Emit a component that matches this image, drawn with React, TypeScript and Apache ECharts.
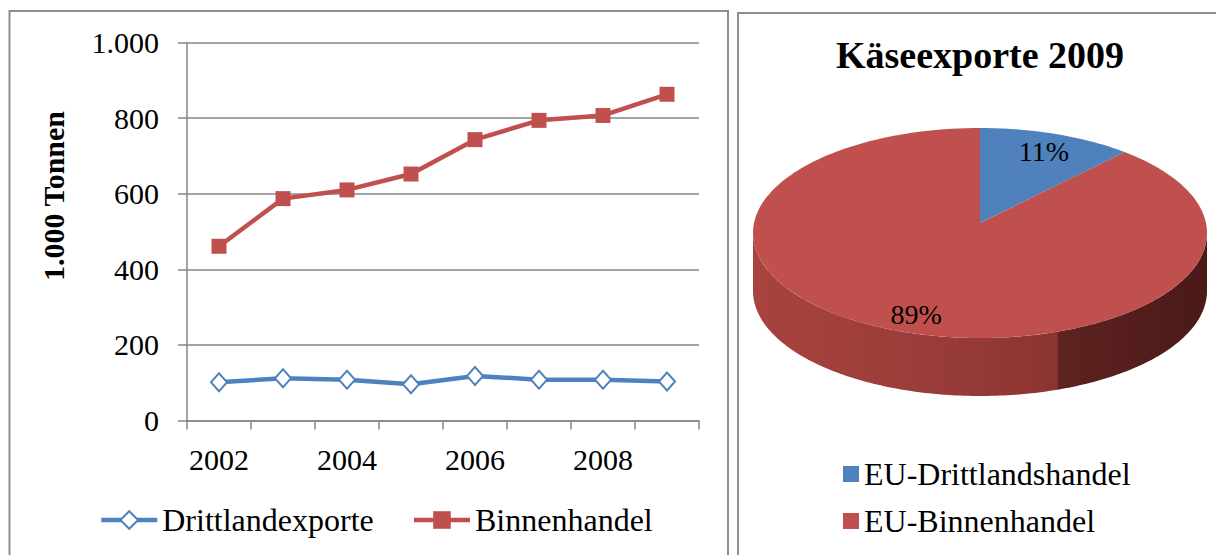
import { useEffect, useRef } from 'react';
import * as echarts from 'echarts';

const years = ['2002', '2003', '2004', '2005', '2006', '2007', '2008', '2009'];
const drittlandexporte = [101, 112, 108, 96, 118, 108, 108, 103];
const binnenhandel = [461, 587, 610, 652, 743, 794, 807, 863];
const lineNames = ['Drittlandexporte', 'Binnenhandel'];

const pieTitle = 'Käseexporte 2009';
const pieNames = ['EU-Drittlandshandel', 'EU-Binnenhandel'];
const pieShares = [11, 89];

const yAxisTitle = '1.000 Tonnen';

const FONT = "'Liberation Serif', 'Times New Roman', serif";
const BLUE = '#4F81BD';
const RED = '#C0504D';
const GREY = '#868686';

function fmt(v: number): string {
  return String(v).replace(/\B(?=(\d{3})+(?!\d))/g, '.');
}

export default function App() {
  const ref = useRef<HTMLDivElement>(null);
  useEffect(() => {
    const chart = echarts.init(ref.current!, null, { renderer: 'svg' });

    const cx = 980, cy = 233, rx = 227, ry = 105, depth = 58, apexLift = 10;
    const total = pieShares.reduce((a, b) => a + b, 0);
    const starts: number[] = [];
    let acc = 0;
    for (const v of pieShares) {
      starts.push((acc / total) * Math.PI * 2);
      acc += v;
    }
    const pt = (t: number, f = 1, dy = 0) => [cx + rx * f * Math.sin(t), cy - ry * f * Math.cos(t) + dy];
    const arc = (a0: number, a1: number, dy = 0) => {
      const n = Math.max(2, Math.ceil((a1 - a0) / (Math.PI / 180)));
      const pts: number[][] = [];
      for (let i = 0; i <= n; i++) pts.push(pt(a0 + ((a1 - a0) * i) / n, 1, dy));
      return pts;
    };
    const sideFill = new echarts.graphic.LinearGradient(0, 0, 1, 0, [
      { offset: 0, color: '#a8433f' },
      { offset: 0.45, color: '#973b38' },
      { offset: 0.67, color: '#8a3431' },
      { offset: 0.672, color: '#5f2321' },
      { offset: 1, color: '#4a1918' },
    ]);
    const colors = [BLUE, RED];

    const makeRender = (idx: number) => (_params: any, api: any) => {
      const v = api.value(0);
      const a0 = starts[idx];
      const a1 = a0 + (v / total) * Math.PI * 2;
      const children: any[] = [];
      const w0 = Math.max(a0, Math.PI / 2);
      const w1 = Math.min(a1, (3 * Math.PI) / 2);
      if (w1 > w0) {
        const top = arc(w0, w1, 0);
        const bottom = arc(w0, w1, depth).reverse();
        children.push({ type: 'polygon', shape: { points: top.concat(bottom) }, style: { fill: sideFill } });
      }
      const face = [[cx, cy - apexLift]].concat(arc(a0, a1));
      children.push({ type: 'polygon', shape: { points: face }, style: { fill: colors[idx] } });
      const mid = (a0 + a1) / 2;
      const [lx, ly] = pt(mid, 0.83);
      children.push({
        type: 'text',
        style: {
          text: Math.round((v / total) * 100) + '%',
          x: lx,
          y: ly,
          align: 'center',
          verticalAlign: 'middle',
          fontSize: 28,
          fontFamily: FONT,
          fill: '#000',
        },
      });
      return { type: 'group', children };
    };

    const option: any = {
      animation: false,
      backgroundColor: '#fff',
      graphic: [
        { type: 'rect', shape: { x: 9.5, y: 11, width: 718.5, height: 570 }, style: { fill: 'none', stroke: '#8e8e8e', lineWidth: 2 } },
        { type: 'rect', shape: { x: 738, y: 13, width: 500, height: 570 }, style: { fill: 'none', stroke: '#8e8e8e', lineWidth: 2 } },
        {
          type: 'text', x: 980, y: 55,
          style: { text: pieTitle, align: 'center', verticalAlign: 'middle', fontSize: 38, fontWeight: 'bold', fontFamily: FONT, fill: '#000' },
        },
        {
          type: 'text', x: 53, y: 196, rotation: Math.PI / 2,
          style: { text: yAxisTitle, align: 'center', verticalAlign: 'middle', fontSize: 30, fontWeight: 'bold', fontFamily: FONT, fill: '#000' },
        },
      ],
      grid: { left: 187, right: 517, top: 42.5, bottom: 134.5 },
      legend: [
        {
          data: lineNames,
          left: 99,
          top: 504,
          padding: 0,
          itemWidth: 56,
          itemHeight: 22,
          itemGap: 38,
          lineStyle: { width: 4.5 },
          itemStyle: { borderWidth: 3 },
          textStyle: { fontSize: 32, fontFamily: FONT, color: '#000' },
        },
        {
          data: pieNames,
          orient: 'vertical',
          left: 843,
          top: 458,
          padding: 0,
          icon: 'rect',
          itemWidth: 16,
          itemHeight: 16,
          itemGap: 15,
          textStyle: { fontSize: 32, fontFamily: FONT, color: '#000' },
        },
      ],
      xAxis: {
        type: 'category',
        data: years,
        boundaryGap: true,
        axisLine: { lineStyle: { color: GREY, width: 1.5 } },
        axisTick: { show: true, interval: 0, length: 9, lineStyle: { color: GREY, width: 1.5 } },
        axisLabel: { interval: 1, fontSize: 30, fontFamily: FONT, color: '#000', margin: 24 },
      },
      yAxis: {
        type: 'value',
        min: 0,
        max: 1000,
        interval: 200,
        axisLine: { show: true, lineStyle: { color: GREY, width: 1.5 } },
        axisTick: { show: true, length: 9, lineStyle: { color: GREY, width: 1.5 } },
        splitLine: { lineStyle: { color: GREY, width: 1.5 } },
        axisLabel: { formatter: (v: number) => fmt(v), fontSize: 30, fontFamily: FONT, color: '#000', margin: 28 },
      },
      series: [
        {
          name: lineNames[0],
          type: 'line',
          data: drittlandexporte,
          symbol: 'emptyDiamond',
          symbolSize: [16, 18],
          lineStyle: { color: BLUE, width: 4.5 },
          itemStyle: { color: BLUE, borderWidth: 3 },
        },
        {
          name: lineNames[1],
          type: 'line',
          data: binnenhandel,
          symbol: 'rect',
          symbolSize: 15,
          lineStyle: { color: RED, width: 4.5 },
          itemStyle: { color: RED },
        },
        ...pieNames.map((name, i) => ({
          name,
          type: 'custom',
          coordinateSystem: 'none',
          silent: true,
          itemStyle: { color: colors[i] },
          data: [[pieShares[i]]],
          renderItem: makeRender(i),
        })),
      ],
    };
    chart.setOption(option);
    return () => chart.dispose();
  }, []);
  return <div ref={ref} style={{ position: 'fixed', left: 0, top: 0, width: 1216, height: 555 }} />;
}
